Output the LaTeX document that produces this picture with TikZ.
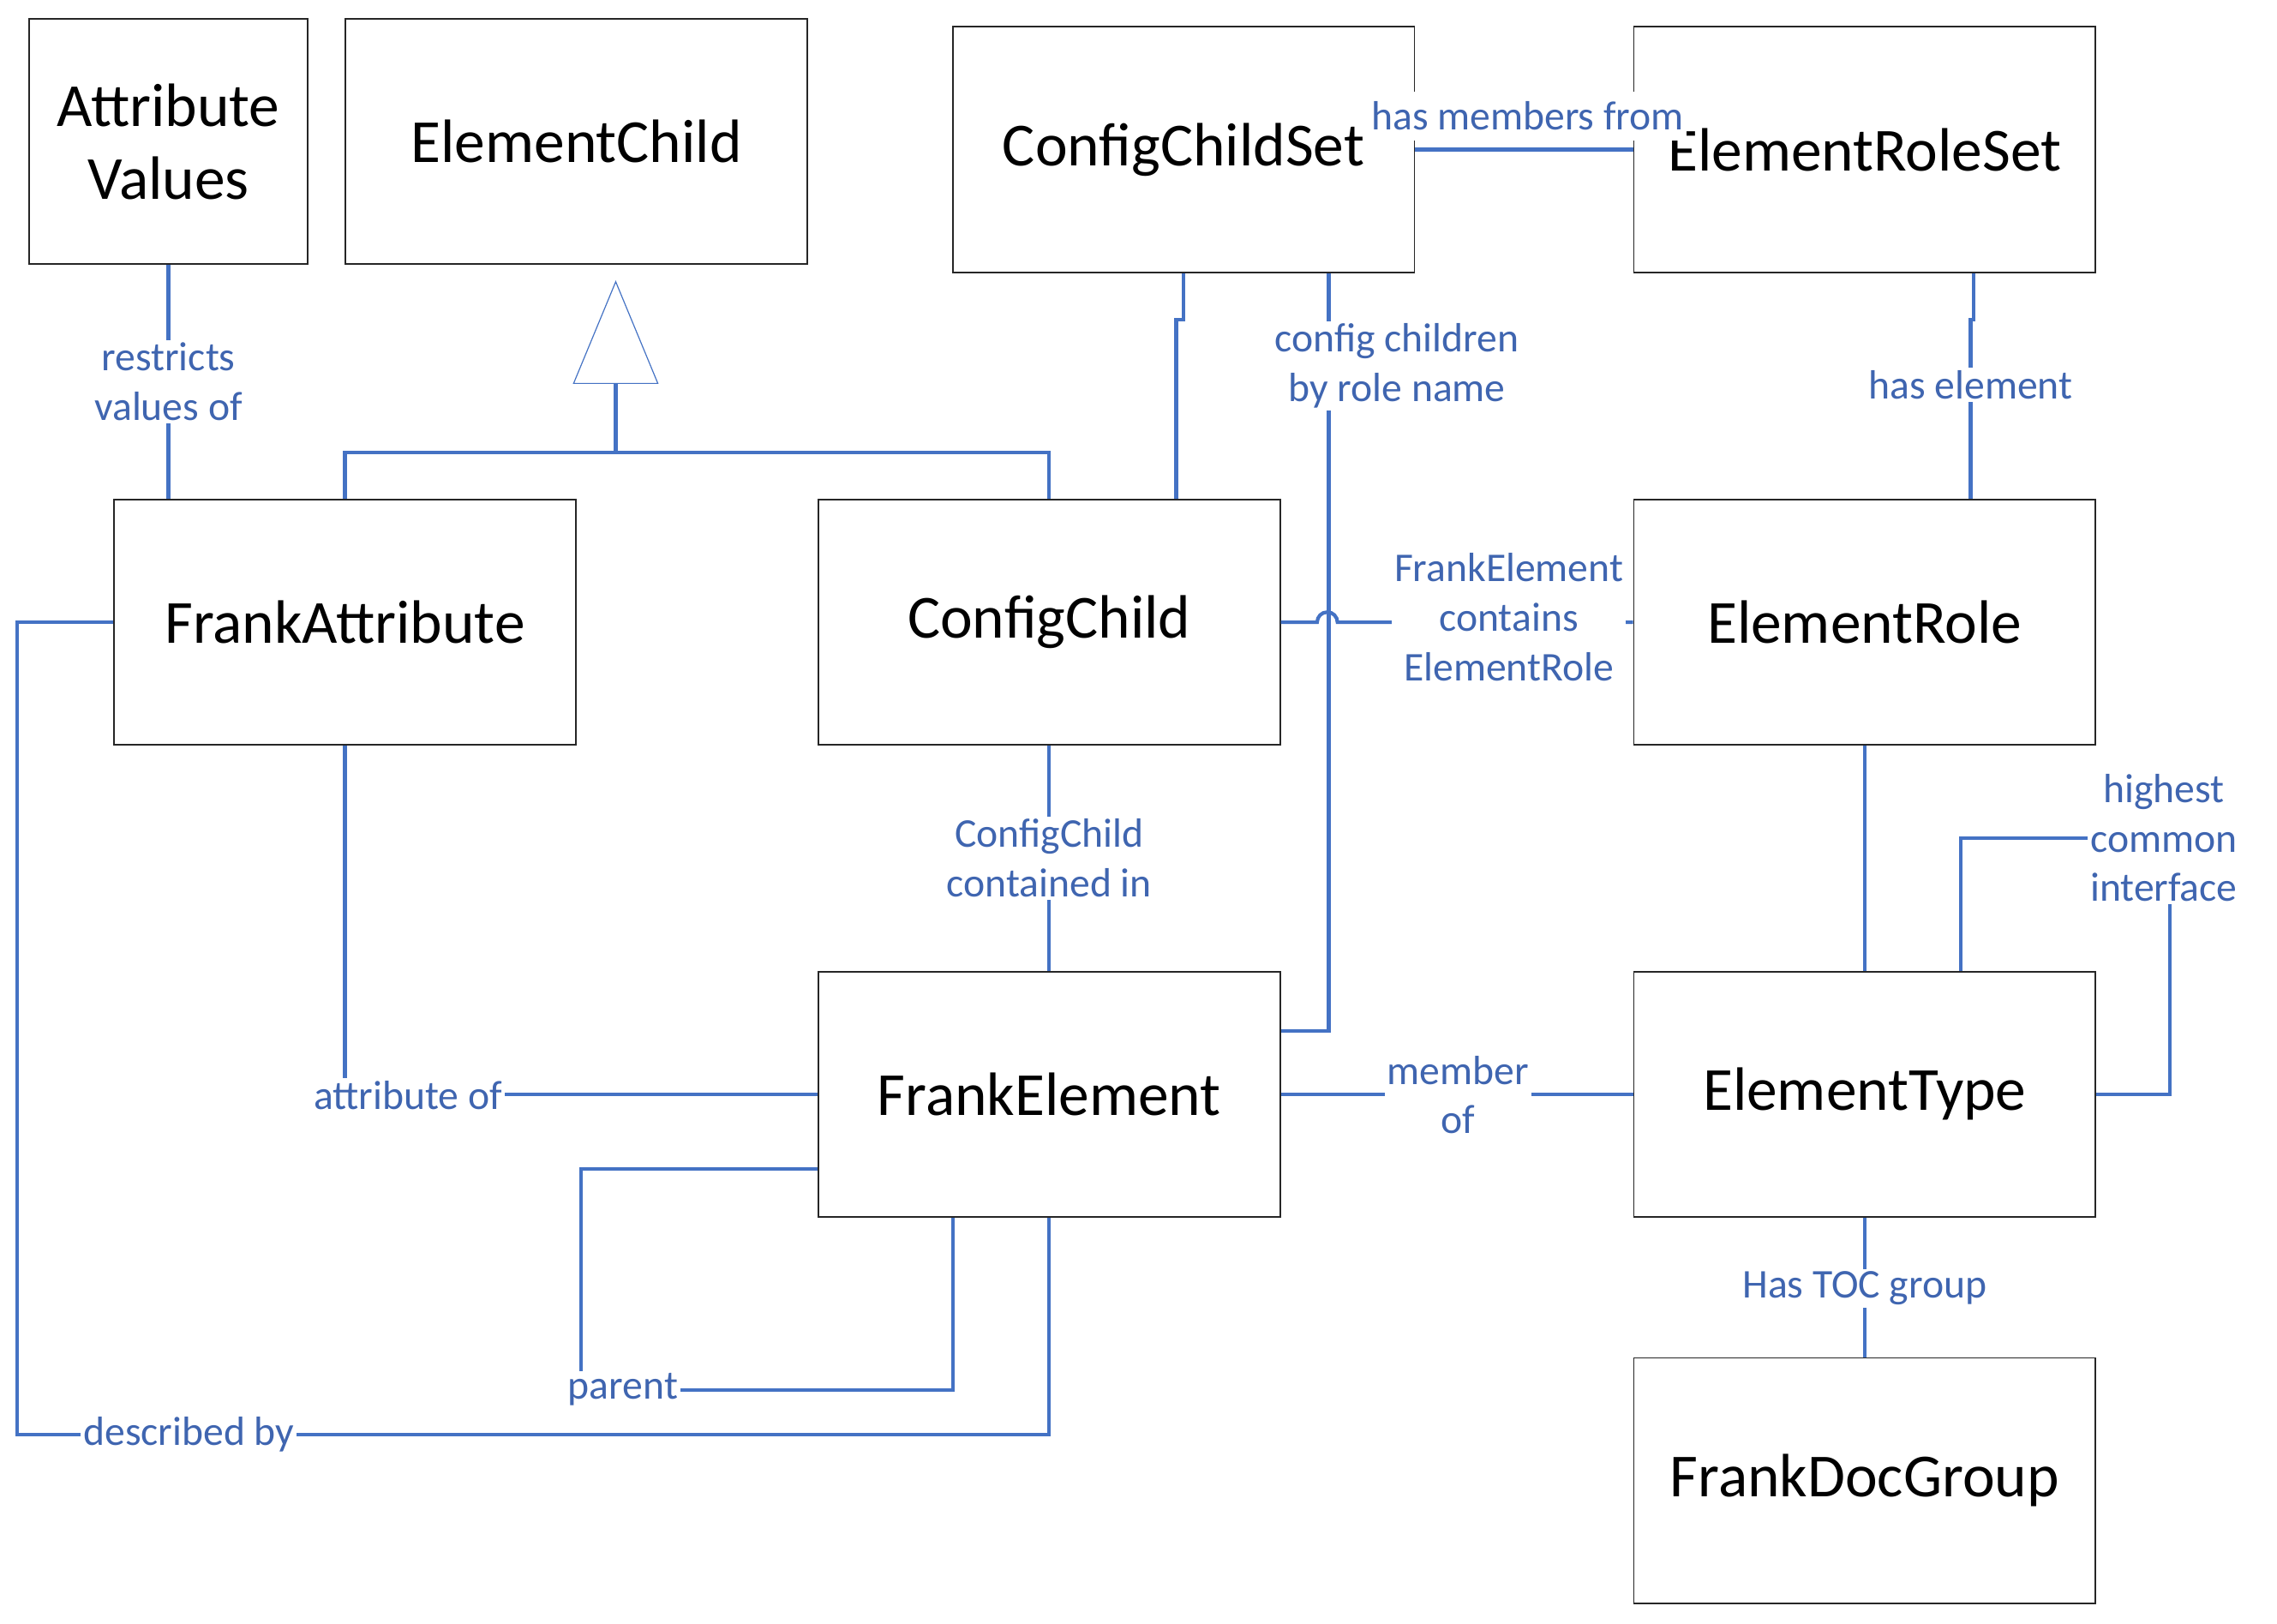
\documentclass[tikz,border=0pt]{standalone}
\usepackage{fontspec}
\setmainfont{Carlito}
\usepackage{tikz}
\usetikzlibrary{calc}
\definecolor{ln}{HTML}{4472C4}
\definecolor{lb}{HTML}{3F65B0}
\definecolor{bx}{HTML}{262626}

\begin{document}
\begin{tikzpicture}[x=0.02cm,y=-0.02cm,
  entity/.style={draw=bx, line width=0.6pt, minimum width=6.36cm, minimum height=3.38cm,
    font=\fontsize{24}{28.5}\selectfont, align=center},
  rel/.style={fill=white, text=lb, inner sep=1pt, font=\fontsize{16}{19.4}\selectfont, align=center},
  conn/.style={draw=ln, line width=1.4pt}]
  \fill[white] (0,0) rectangle (1568,1118);
  \useasboundingbox (0,0) rectangle (1568,1118);
  % entities
  \node[entity, minimum width=3.84cm] (AttrValues) at (116,97.5) {Attribute\\Values};
  \node[entity] (ElementChild)   at (397,97.5)    {ElementChild};
  \node[entity] (ConfigChildSet) at (815,103)     {ConfigChildSet};
  \node[entity] (ElementRoleSet) at (1284,103)    {ElementRoleSet};
  \node[entity] (FrankAttribute) at (237.5,428.5) {FrankAttribute};
  \node[entity] (ConfigChild)    at (722.5,428.5) {ConfigChild};
  \node[entity] (ElementRole)    at (1284,428.5)  {ElementRole};
  \node[entity] (FrankElement)   at (722.5,753.5) {FrankElement};
  \node[entity] (ElementType)    at (1284,753.5)  {ElementType};
  \node[entity] (FrankDocGroup)  at (1284,1019.5) {FrankDocGroup};
  % generalization
  \coordinate (genbase) at (424,264);
  \draw[ln, line width=0.4pt] ($(genbase)+(-29,0)$) -- (424,194) -- ($(genbase)+(29,0)$) -- cycle;
  \draw[conn] (FrankAttribute.north) -- ++(0,-32) -| (ConfigChild.north);
  \draw[conn] (genbase) -- ++(0,48);
  % corner points
  \coordinate (dsc) at (12,988);
  \coordinate (par) at (400,957);
  \coordinate (hci) at (1494,577);
  % relations
  \draw[conn] (AttrValues.south) -- (AttrValues.south |- FrankAttribute.north);
  \draw[conn] (ConfigChildSet.east) -- (ElementRoleSet.west);
  \draw[conn] (ConfigChildSet.south) -- ++(0,32) -| ([xshift=-0.1cm]ConfigChildSet.south |- ConfigChild.north);
  \draw[conn] ([xshift=2cm]ConfigChildSet.south) |- ([yshift=0.87cm]FrankElement.east);
  \draw[conn] ([xshift=1.5cm]ElementRoleSet.south) -- ++(0,32) -| ([xshift=1.46cm]ElementRole.north);
  \draw[conn] (ConfigChild.east) -- (907,428.5) arc[start angle=180, end angle=0, radius=0.14cm]
    -- (ElementRole.west);
  \draw[conn] (ConfigChild.south) -- (FrankElement.north);
  \draw[conn] (FrankElement.east) -- (ElementType.west);
  \draw[conn] (ElementRole.south) -- (ElementType.north);
  \draw[conn] ([xshift=1.32cm]ElementType.north) |- (hci) |- (ElementType.east);
  \draw[conn] (ElementType.south) -- (FrankDocGroup.north);
  \draw[conn] (FrankAttribute.south) |- (FrankElement.west);
  \draw[conn] ([yshift=-1.03cm]FrankElement.west) -| (par) -| ([xshift=-1.33cm]FrankElement.south);
  \draw[conn] (FrankAttribute.west) -| (dsc) -| (FrankElement.south);
  % labels
  \node[rel] (restricts)  at (116,263)   {restricts\\values of};
  \node[rel, minimum height=0.68cm] (hasmembers) at (1052,80) {has members from};
  \node[rel] (cfgchildren) at (962,252)  {config children\\by role name};
  \node[rel] (haselement) at (1357,265)  {has element};
  \node[rel] (contains)   at (1039,425)  {FrankElement\\contains\\ElementRole};
  \node[rel] (containedin) at (722.5,591) {ConfigChild\\contained in};
  \node[rel] (highest)    at (1490,577)  {highest\\common\\interface};
  \node[rel] (attrof)     at (281,754)   {attribute of};
  \node[rel] (memberof)   at (1004,754)  {member\\of};
  \node[rel] (parent)     at (429,957)   {parent};
  \node[rel] (described)  at (130,988)   {described by};
  \node[rel] (toc)        at (1284,887)  {Has TOC group};
\end{tikzpicture}
\end{document}
